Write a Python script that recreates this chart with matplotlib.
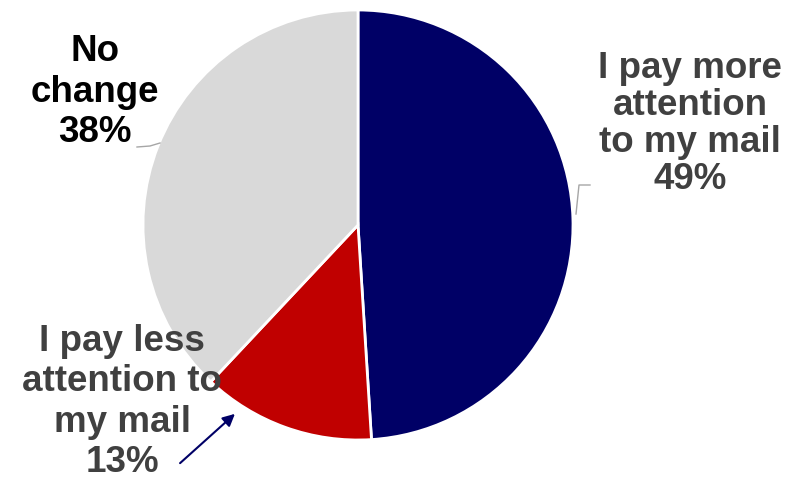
import matplotlib.pyplot as plt
from matplotlib.patches import FancyArrowPatch

labels = ['I pay more\nattention\nto my mail\n49%', 'I pay less\nattention to\nmy mail\n13%', 'No\nchange\n38%']
values = [49, 13, 38]
colors = ['#000066', '#C00000', '#D9D9D9']

plt.rcParams['font.family'] = ['Liberation Sans', 'DejaVu Sans']

fig = plt.figure(figsize=(7.86, 4.84), dpi=100)
ax = fig.add_axes([0, 0, 1, 1])

ax.pie(values, colors=colors, startangle=90, counterclock=False,
       center=(358, 259), radius=215,
       wedgeprops=dict(edgecolor='white', linewidth=2))

ax.set_xlim(0, 786)
ax.set_ylim(0, 484)
ax.set_aspect('equal')
ax.axis('off')

# labels
ax.text(690, 360, labels[0], ha='center', va='center', fontsize=26.5,
        fontweight='bold', color='#404040', linespacing=1.07)
ax.text(122, 82, labels[1], ha='center', va='center', fontsize=26.5,
        fontweight='bold', color='#404040', linespacing=1.2)
ax.text(95, 392, labels[2], ha='center', va='center', fontsize=26.5,
        fontweight='bold', color='black', linespacing=1.2)

# leader lines
ax.plot([576, 579, 590], [270, 299, 299], color='#A6A6A6', lw=1)
ax.plot([137, 150, 160], [337, 338, 341], color='#A6A6A6', lw=1)
arr = FancyArrowPatch((178, 19), (237, 72), arrowstyle='-|>', mutation_scale=18,
                      color='#000066', lw=1.5)
ax.add_patch(arr)

fig.savefig('out.png', dpi=100)
